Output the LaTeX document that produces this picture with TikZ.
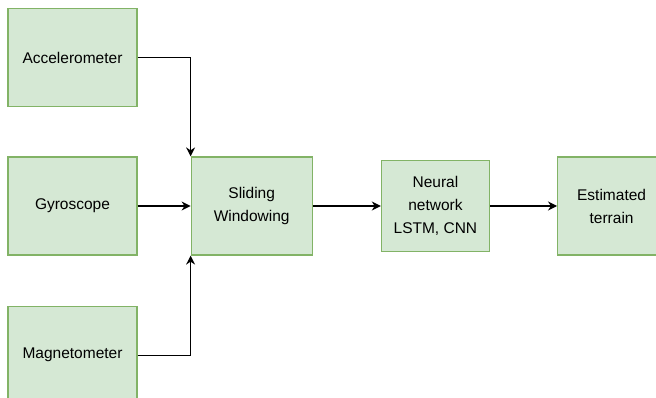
\documentclass[tikz,border=0pt]{standalone}
\usepackage{fontspec}
\setmainfont{Liberation Sans}
\usepackage{xcolor}
\definecolor{boxfill}{HTML}{D5E8D4}
\definecolor{boxline}{HTML}{82B366}
\usetikzlibrary{positioning,arrows.meta}
\tikzset{
    sensor/.style={
    rectangle,draw=boxline,fill=boxfill,line width=1.2pt,minimum width=129pt,minimum height=98pt,align=center
    },
    stage/.style={
    rectangle,draw=boxline,fill=boxfill,line width=1.2pt,minimum height=98pt,align=center
    },
  line/.style={draw, line width=1.3pt, -{Stealth[length=9pt,width=9pt]}}
}
\begin{document}
\begin{tikzpicture}[x=1pt,y=1pt,font=\fontsize{15.5}{23}\selectfont]
    \useasboundingbox (0,0) rectangle (656,-398);

    \node[sensor] (gyro) at (72.5,-206) {Gyroscope};
    \node[sensor,above=49pt of gyro] (acc) {Accelerometer};
    \node[sensor,below=50pt of gyro] (mag) {Magnetometer};

    \node[stage,minimum width=121pt,right=53pt of gyro] (slide) {Sliding\\Windowing};
    \node[stage,minimum width=108pt,minimum height=91pt,right=68pt of slide] (nn) {Neural\\network\\LSTM, CNN};
    \node[stage,minimum width=108pt,right=67pt of nn] (est) {Estimated\\terrain};

    \begin{scope} [every path/.style=line]
      \path (acc) -| (slide.north west);
      \path (gyro) -- (slide);
      \path (mag) -| (slide.south west);
      \path (slide) -- (nn);
      \path (nn) -- (est);
    \end{scope}
\end{tikzpicture}
\end{document}
